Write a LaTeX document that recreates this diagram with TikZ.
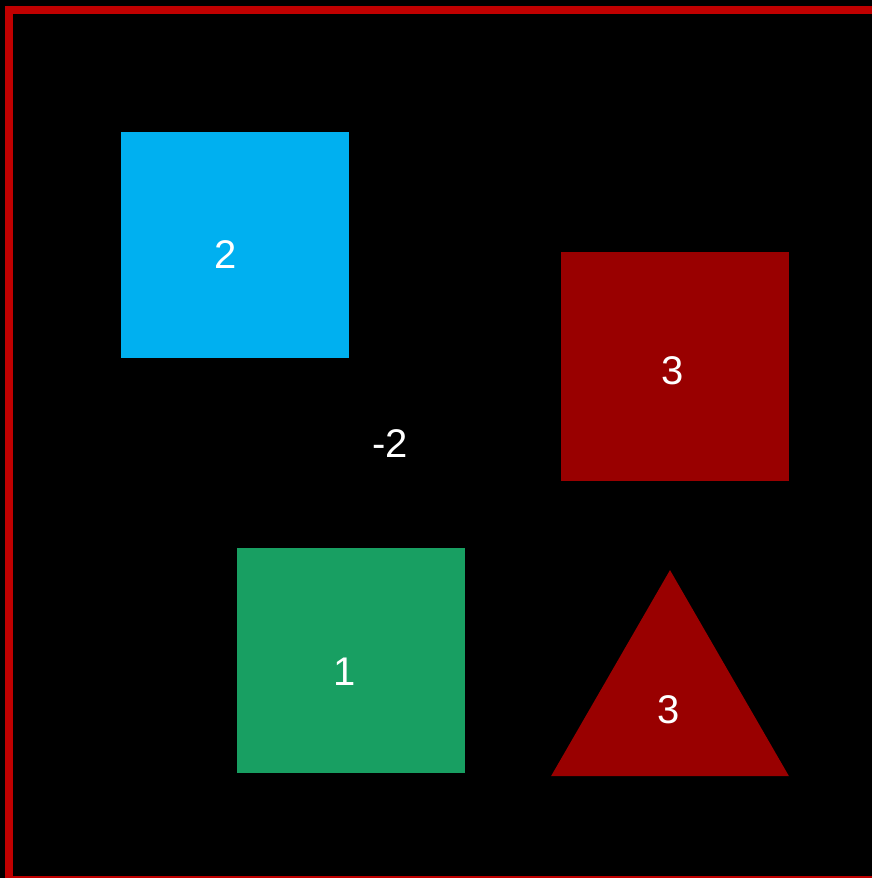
\documentclass[tikz,border=0pt]{standalone}
\usepackage{fontspec}
\setmainfont{Liberation Sans}
\usetikzlibrary{shapes.geometric}
\definecolor{skyblue}{HTML}{00B0F0}
\definecolor{darkred}{HTML}{990000}
\definecolor{seagreen}{HTML}{189F62}
\definecolor{framered}{HTML}{C00000}
\tikzset{
  lbl/.style={text=white, font=\fontsize{40}{48}\selectfont, inner sep=0pt, outer sep=0pt},
  sq/.style={lbl, minimum width=228pt, minimum height=226pt, anchor=center},
  tri/.style={lbl, regular polygon, regular polygon sides=3, minimum size=274.8pt, fill=darkred}
}
\begin{document}
\begin{tikzpicture}[x=1pt,y=-1pt]
\useasboundingbox (0,0) rectangle (872,878);
\fill[black] (0,0) rectangle (872,878);
\begin{scope}
\clip (0,0) rectangle (872,878);
\draw[framered, line width=8pt] (9,10) rectangle (876,880);
\end{scope}
\node[sq, fill=skyblue] (two) at (235,244.5) {};
\node[lbl] (twol) at (226,255) {2};
\node[sq, fill=darkred, minimum height=229pt] (three) at (675,366.5) {};
\node[lbl] (threel) at (673,371) {3};
\node[sq, fill=seagreen, minimum height=225pt] (one) at (351,660.5) {};
\node[lbl] (onel) at (345,672) {1};
\node[tri] (tri) at (670,707.5) {};
\node[lbl] (tril) at (669,710) {3};
\node[lbl] (m2) at (390,444) {-2};
\end{tikzpicture}
\end{document}
